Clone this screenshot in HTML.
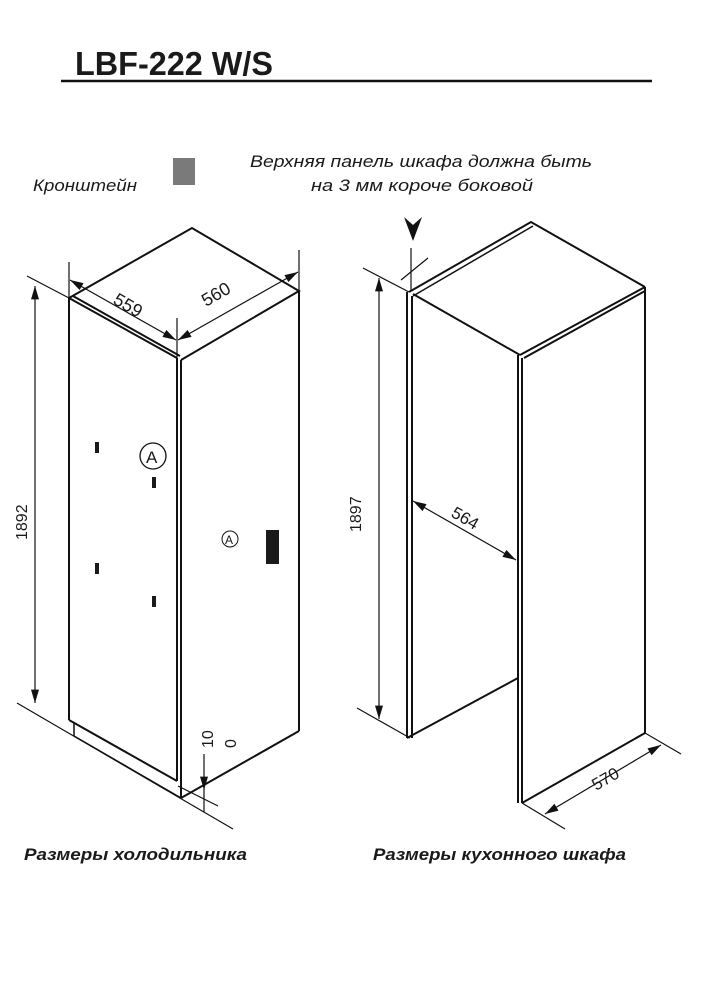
<!DOCTYPE html>
<html><head><meta charset="utf-8"><style>
html,body{margin:0;padding:0;background:#fff}
svg{display:block}
text{font-family:"Liberation Sans",sans-serif;fill:#1a1a1a}
</style></head><body>
<svg width="704" height="1000" viewBox="0 0 704 1000" xmlns="http://www.w3.org/2000/svg">
<defs>
<marker id="a" viewBox="0 0 10 6" refX="10" refY="3" markerWidth="14" markerHeight="8" markerUnits="userSpaceOnUse" orient="auto-start-reverse"><path d="M0,0 L10,3 L0,6 Z" fill="#111"/></marker>
</defs>
<text x="75" y="75" font-size="33" font-weight="bold" textLength="198" lengthAdjust="spacingAndGlyphs">LBF-222 W/S</text>
<line x1="61" y1="81" x2="652" y2="81" stroke="#111" stroke-width="2.5"/>
<text x="33" y="191" font-size="17" font-style="italic" textLength="104" lengthAdjust="spacingAndGlyphs">Кронштейн</text>
<rect x="173" y="158" width="22" height="27" fill="#7a7a7a"/>
<text x="250" y="167" font-size="17" font-style="italic" textLength="342" lengthAdjust="spacingAndGlyphs">Верхняя панель шкафа должна быть</text>
<text x="311" y="191" font-size="17" font-style="italic" textLength="222" lengthAdjust="spacingAndGlyphs">на 3 мм короче боковой</text>

<g stroke="#111" fill="none" stroke-width="2">
<path d="M69,298 L192,228 L299,291 L181,360"/>
<path d="M69,298 L177,358 M73,296 L180,356"/>
<line x1="69" y1="298" x2="69" y2="720"/>
<line x1="177" y1="358" x2="177" y2="781"/>
<line x1="181" y1="360" x2="181" y2="798"/>
<line x1="299" y1="291" x2="299" y2="731"/>
<path d="M69,720 L177,781"/>
<path d="M299,731 L181,798"/>
<path d="M74,722 L74,736 L181,798" stroke-width="1.5"/>
</g>
<g stroke="#111" stroke-width="1.2" fill="none">
<line x1="17" y1="703" x2="233" y2="829"/>
<line x1="178" y1="786" x2="218" y2="806"/>
<line x1="27" y1="276" x2="69" y2="298"/>
<line x1="35" y1="286" x2="35" y2="703" marker-start="url(#a)" marker-end="url(#a)"/>
<line x1="69" y1="262" x2="69" y2="298"/>
<line x1="177" y1="318" x2="177" y2="358"/>
<line x1="299" y1="250" x2="299" y2="291"/>
<line x1="70" y1="280" x2="176" y2="340" marker-start="url(#a)" marker-end="url(#a)"/>
<line x1="178" y1="340" x2="298" y2="272" marker-start="url(#a)" marker-end="url(#a)"/>
<line x1="204" y1="754" x2="204" y2="790" marker-end="url(#a)"/>
<line x1="204" y1="790" x2="204" y2="812"/>
</g>
<text transform="translate(112,303) rotate(30)" font-size="18">559</text>
<text transform="translate(206,307) rotate(-30)" font-size="18">560</text>
<text transform="translate(27,540) rotate(-90)" font-size="16">1892</text>
<text transform="translate(213,748) rotate(-90)" font-size="16">10</text>
<text transform="translate(236,748) rotate(-90)" font-size="16">0</text>
<circle cx="153" cy="456" r="13" fill="none" stroke="#111" stroke-width="1.3"/>
<text x="146" y="463" font-size="17">A</text>
<circle cx="230" cy="539" r="8" fill="none" stroke="#111" stroke-width="1"/>
<text x="225" y="544" font-size="12">A</text>
<rect x="266" y="530" width="13" height="34" fill="#1a1a1a"/>
<g fill="#1a1a1a">
<rect x="95" y="442" width="4" height="11"/><rect x="152" y="477" width="4" height="11"/>
<rect x="95" y="563" width="4" height="11"/><rect x="152" y="596" width="4" height="11"/>
</g>

<g stroke="#111" fill="none" stroke-width="2">
<path d="M409,292 L531,222 L645,287"/>
<path d="M413,296 L533,226" stroke-width="1.5"/>
<path d="M413,294 L520,355 M645,287 L520,355 M645,291 L524,358" />
<line x1="407" y1="292" x2="407" y2="738"/>
<line x1="412" y1="296" x2="412" y2="738"/>
<line x1="518" y1="355" x2="518" y2="803"/>
<line x1="522" y1="358" x2="522" y2="803"/>
<line x1="645" y1="287" x2="645" y2="733"/>
<path d="M407,738 L518,678"/>
<path d="M522,803 L645,733"/>
</g>
<g stroke="#111" stroke-width="1.2" fill="none">
<line x1="363" y1="268" x2="409" y2="292"/>
<line x1="357" y1="708" x2="410" y2="738"/>
<line x1="379" y1="278" x2="379" y2="719" marker-start="url(#a)" marker-end="url(#a)"/>
<line x1="411" y1="248" x2="411" y2="290"/>
<line x1="401" y1="280" x2="428" y2="258"/>
<line x1="413" y1="501" x2="516" y2="560" marker-start="url(#a)" marker-end="url(#a)"/>
<line x1="645" y1="733" x2="681" y2="754"/>
<line x1="522" y1="803" x2="565" y2="829"/>
<line x1="545" y1="814" x2="661" y2="745" marker-start="url(#a)" marker-end="url(#a)"/>
</g>
<path d="M404,217 L413,241 L422,217 L413,225 Z" fill="#111"/>
<text transform="translate(361,532) rotate(-90)" font-size="16">1897</text>
<text transform="translate(450,516) rotate(30)" font-size="17">564</text>
<text transform="translate(596,791) rotate(-30)" font-size="17">570</text>

<text x="24" y="860" font-size="17" font-weight="bold" font-style="italic" textLength="223" lengthAdjust="spacingAndGlyphs">Размеры холодильника</text>
<text x="373" y="860" font-size="17" font-weight="bold" font-style="italic" textLength="253" lengthAdjust="spacingAndGlyphs">Размеры кухонного шкафа</text>
</svg>
</body></html>
